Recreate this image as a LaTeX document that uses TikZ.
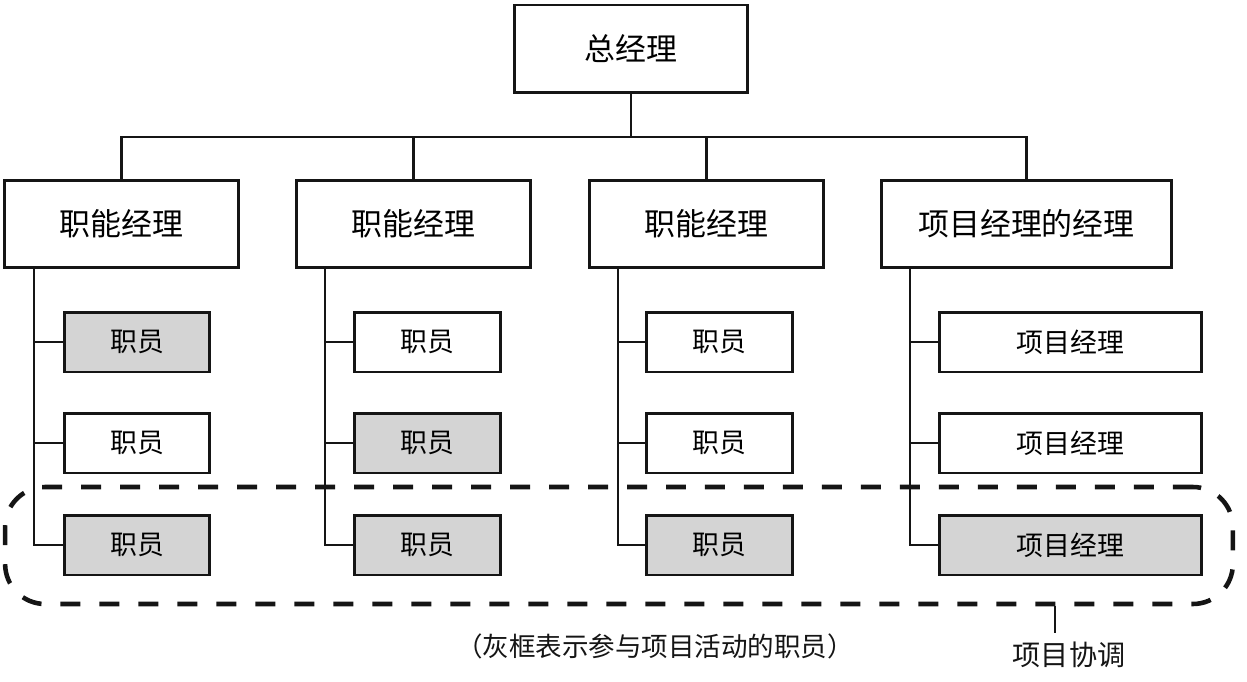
\documentclass[tikz,border=0pt]{standalone}
\usepackage{fontspec}
\setmainfont{Noto Sans CJK SC}
\usepackage{tikz}
\usepackage{xcolor}
\usetikzlibrary{positioning,calc}
\definecolor{orgline}{HTML}{151515}
\definecolor{orggray}{HTML}{D4D4D4}
\tikzset{
  topBox/.style={draw=orgline, line width=1.7pt, fill=white, minimum width=4.68cm, minimum height=1.76cm, font=\fontsize{17.6}{20}\selectfont},
  mgrBox/.style={draw=orgline, line width=1.7pt, fill=white, minimum height=1.76cm, font=\fontsize{17.6}{20}\selectfont},
  staffBox/.style={draw=orgline, line width=1.7pt, minimum height=1.2cm, font=\fontsize{15.3}{18}\selectfont},
  orgLink/.style={draw=orgline, line width=1.6pt},
  projGroup/.style={draw=orgline, line width=2.6pt, dash pattern=on 0.4cm off 0.38cm, rounded corners=0.8cm, minimum width=24.56cm, minimum height=2.34cm},
  noteText/.style={font=\fontsize{15.1}{18}\selectfont, text=orgline}
}
\begin{document}
\begin{tikzpicture}[x=0.02cm,y=-0.02cm]
  \useasboundingbox (0,0) rectangle (1247,682);
  \node[topBox] (gm) at (631,49) {总经理};
  \foreach \c/\x/\w/\lab in {1/121.5/4.7cm/职能经理,2/413.5/4.7cm/职能经理,3/706.5/4.7cm/职能经理,4/1026.5/5.82cm/项目经理的经理} {
    \node[mgrBox, minimum width=\w] (m\c) at (\x,224) {\lab};
  }
  \coordinate (bus) at (631,137);
  \draw[orgLink] (gm.south) -- (bus);
  \draw[orgLink] (m1.north) |- (bus) -| (m4.north);
  \draw[orgLink] (m2.north) -- (m2.north |- bus);
  \draw[orgLink] (m3.north) -- (m3.north |- bus);
  \node[projGroup] (grp) at (619,545.5) {};
  \foreach \c/\x/\w/\lab/\fa/\fb in {1/137/2.92cm/职员/orggray/white,2/427.5/2.92cm/职员/white/orggray,3/719.5/2.92cm/职员/white/white,4/1070.5/5.24cm/项目经理/white/white} {
    \node[staffBox, minimum width=\w, fill=\fa] (e\c1) at (\x,342) {\lab};
    \node[staffBox, minimum width=\w, fill=\fb] (e\c2) at (\x,443) {\lab};
    \node[staffBox, minimum width=\w, fill=orggray] (e\c3) at (\x,545) {\lab};
  }
  \foreach \c/\sx in {1/34,2/325,3/618,4/910} {
    \coordinate (t\c) at (\sx,300);
    \draw[orgLink] (m\c.south -| t\c) |- (e\c3.west);
    \draw[orgLink] (e\c1.west -| t\c) -- (e\c1.west);
    \draw[orgLink] (e\c2.west -| t\c) -- (e\c2.west);
  }
  \coordinate (tagtop) at (1055,633);
  \draw[orgLink] (grp.south -| tagtop) -- (tagtop);
  \node[noteText, font=\fontsize{16}{18}\selectfont] (tag) at (1069,655) {项目协调};
  \node[noteText] (note) at (655,646) {（灰框表示参与项目活动的职员）};
\end{tikzpicture}
\end{document}
